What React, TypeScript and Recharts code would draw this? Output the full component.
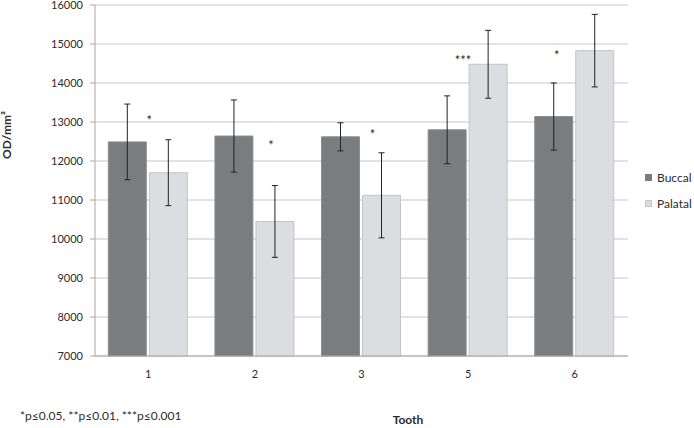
import {
  ComposedChart,
  Bar,
  Line,
  XAxis,
  YAxis,
  CartesianGrid,
  ErrorBar,
  Label,
} from 'recharts';

const teeth = ['1', '2', '3', '5', '6'];
const buccal = [12490, 12640, 12620, 12800, 13140];
const buccalErr = [970, 925, 360, 870, 860];
const palatal = [11700, 10450, 11120, 14480, 14830];
const palatalErr = [845, 920, 1090, 870, 930];
const sigMarks = ['*', '*', '*', '***', '*'];
const sigLevel = [13110, 12470, 12750, 14640, 14770];
const yTicks = [7000, 8000, 9000, 10000, 11000, 12000, 13000, 14000, 15000, 16000];

const BUCCAL = '#7b7c80';
const PALATAL = '#dcdde0';
const TEXT = '#2b2b2b';

// small horizontal nudge per group so the stars sit where the original put them
const sigNudge = [1, 16, 11, -5, -18];

const rows = teeth.map((t, i) => ({
  tooth: t,
  buccal: buccal[i],
  buccalErr: buccalErr[i],
  palatal: palatal[i],
  palatalErr: palatalErr[i],
  sig: sigLevel[i],
  mark: sigMarks[i],
}));

function SigDot(props: any) {
  const { cx, cy, index, payload } = props;
  return (
    <text
      key={`sig-${index}`}
      x={cx + sigNudge[index]}
      y={cy + 7}
      textAnchor="middle"
      fontSize={13}
      fill={TEXT}
    >
      {payload.mark}
    </text>
  );
}

function LegendBox() {
  const items = [
    { name: 'Buccal', color: BUCCAL, border: BUCCAL },
    { name: 'Palatal', color: PALATAL, border: '#c4c5c7' },
  ];
  return (
    <div style={{ position: 'absolute', left: 645, top: 164 }}>
      {items.map((it) => (
        <div key={it.name} style={{ display: 'flex', alignItems: 'center', height: 26 }}>
          <span
            style={{
              width: 7,
              height: 7,
              background: it.color,
              border: `1px solid ${it.border}`,
              boxSizing: 'border-box',
              marginRight: 5,
            }}
          />
          <span style={{ fontSize: 12, color: TEXT }}>{it.name}</span>
        </div>
      ))}
    </div>
  );
}

export default function App() {
  return (
    <div
      style={{
        position: 'absolute',
        left: 0,
        top: 0,
        width: 694,
        height: 428,
        background: '#fff',
        fontFamily: 'Lato, "Open Sans", sans-serif',
      }}
    >
      <ComposedChart
        width={694}
        height={428}
        data={rows}
        margin={{ top: 5, right: 66, bottom: 42, left: 0 }}
        barCategoryGap="12.5%"
        barGap={3}
      >
        <CartesianGrid stroke="#c6c6c6" vertical={false} />
        <XAxis
          dataKey="tooth"
          height={30}
          tickLine={false}
          axisLine={{ stroke: '#a8a8a8' }}
          tick={{ fontSize: 11, fill: TEXT }}
          tickMargin={8}
        >
          <Label
            content={() => (
              <g>
                <text x={408} y={424} textAnchor="middle" fontSize={12} fontWeight="bold" fill={TEXT}>
                  Tooth
                </text>
                <text x={20} y={420} fontSize={12} fill={TEXT}>
                  *p≤0.05, **p≤0.01, ***p≤0.001
                </text>
              </g>
            )}
          />
        </XAxis>
        <YAxis
          width={95}
          domain={[7000, 16000]}
          ticks={yTicks}
          interval={0}
          tickSize={5}
          tickMargin={7}
          tickLine={{ stroke: '#a8a8a8' }}
          axisLine={{ stroke: '#a8a8a8' }}
          tick={{ fontSize: 11, fill: TEXT }}
        >
          <Label
            content={() => (
              <text
                x={11}
                y={135}
                transform="rotate(-90, 11, 135)"
                textAnchor="middle"
                fontSize={12}
                fontWeight="bold"
                fill={TEXT}
              >
                OD/mm²
              </text>
            )}
          />
        </YAxis>
        <Bar dataKey="buccal" name="Buccal" fill={BUCCAL} stroke="#8d8e92" isAnimationActive={false}>
          <ErrorBar dataKey="buccalErr" width={3} stroke="#222" strokeWidth={1} isAnimationActive={false} />
        </Bar>
        <Bar dataKey="palatal" name="Palatal" fill={PALATAL} stroke="#c4c5c7" isAnimationActive={false}>
          <ErrorBar dataKey="palatalErr" width={3} stroke="#222" strokeWidth={1} isAnimationActive={false} />
        </Bar>
        <Line
          dataKey="sig"
          stroke="none"
          dot={SigDot}
          activeDot={false}
          legendType="none"
          isAnimationActive={false}
        />
      </ComposedChart>
      <LegendBox />
    </div>
  );
}
